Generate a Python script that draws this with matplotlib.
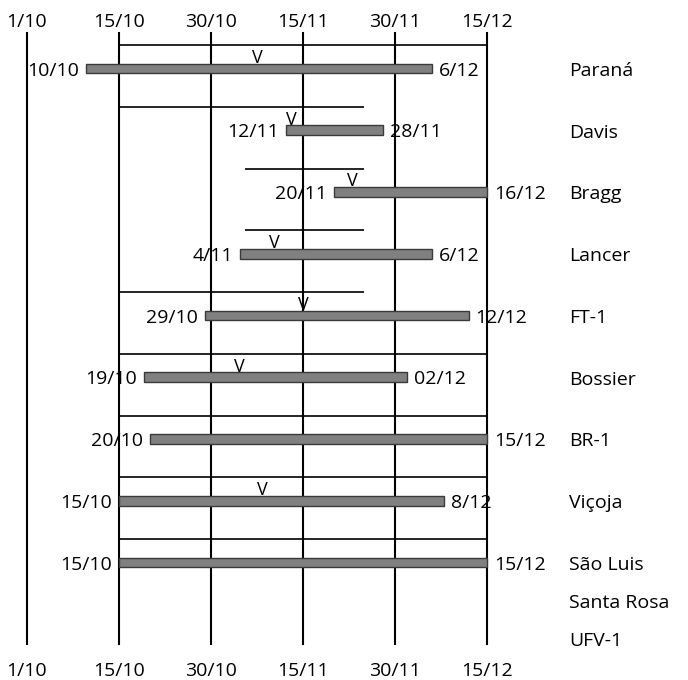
import numpy as np
import matplotlib
matplotlib.use('Agg')
import matplotlib.pyplot as plt

plt.rcParams['font.family'] = ['Open Sans', 'DejaVu Sans']

tick_labels = ['1/10', '15/10', '30/10', '15/11', '30/11', '15/12']

cultivars = ['Paraná', 'Davis', 'Bragg', 'Lancer', 'FT-1', 'Bossier',
             'BR-1', 'Viçoja', 'São Luis', 'Santa Rosa', 'UFV-1']
name_rows = [0, 1, 2, 3, 4, 5, 6, 7, 8, 8.62, 9.23]

# sowing windows (only the first nine cultivars have bars)
start_dates = ['10/10', '12/11', '20/11', '4/11', '29/10', '19/10', '20/10', '15/10', '15/10']
end_dates = ['6/12', '28/11', '16/12', '6/12', '12/12', '02/12', '15/12', '8/12', '15/12']
v_dates = ['7/11', '13/11', '23/11', '10/11', '15/11', '4/11', None, '8/11', None]
line_start = ['15/10', '15/10', '5/11', '5/11', '15/10', '15/10', '15/10', '15/10', '15/10']
line_end = ['15/12', '25/11', '25/11', '25/11', '25/11', '15/12', '15/12', '15/12', '15/12']


def day_number(label):
    d, m = [int(v) for v in label.split('/')]
    return {10: d - 1, 11: 30 + d, 12: 60 + d}[m]


tick_days = [day_number(t) for t in tick_labels]
tick_pos = np.arange(len(tick_labels))


def to_pos(label):
    return np.interp(day_number(label), tick_days, tick_pos)


fig = plt.figure(figsize=(6.88, 6.8), dpi=100)
ax = fig.add_axes([0, 0, 1, 1])
ax.set_xlim(-27 / 92, 661 / 92)
ax.set_ylim(611.5 / 61.75, -68.5 / 61.75)
ax.axis('off')

fs = 14

# vertical date lines and labels
ax.vlines(tick_pos, -0.59, 9.34, color='black', lw=1.5)
for p, t in zip(tick_pos, tick_labels):
    ax.text(p, -0.672, t, ha='center', va='baseline', fontsize=fs)
    ax.text(p, 9.83, t, ha='center', va='baseline', fontsize=fs)

bar_h = 0.16
gap = 7 / 92
for i in range(len(start_dates)):
    x0, x1 = to_pos(start_dates[i]), to_pos(end_dates[i])
    ax.barh(i, x1 - x0, left=x0, height=bar_h, color='#808080',
            edgecolor='#3a3a3a', lw=1, zorder=3)
    ax.hlines(i - 0.38, to_pos(line_start[i]), to_pos(line_end[i]),
              color='black', lw=1.2)
    ax.text(x0 - gap, i + 0.115, start_dates[i], ha='right', va='baseline', fontsize=fs)
    ax.text(x1 + gap, i + 0.115, end_dates[i], ha='left', va='baseline', fontsize=fs)
    if v_dates[i] is not None:
        ax.text(to_pos(v_dates[i]), i - bar_h / 2 - 0.01, 'V', ha='center',
                va='baseline', fontsize=13, zorder=4)

for name, r in zip(cultivars, name_rows):
    ax.text((569 - 27) / 92, r + 0.12, name, ha='left', va='baseline', fontsize=fs)

fig.savefig('out.png', dpi=100)
